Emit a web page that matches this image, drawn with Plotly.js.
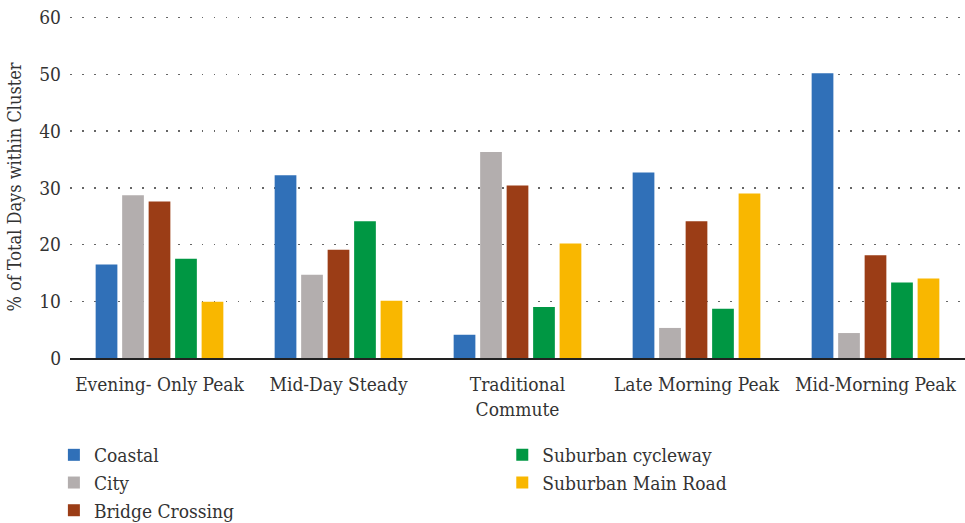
<!DOCTYPE html>
<html>
<head>
<meta charset="utf-8">
<script src="https://cdn.plot.ly/plotly-3.0.1.min.js"></script>
<style>html,body{margin:0;padding:0;background:#fff;}#chart{width:965px;height:523px;}</style>
</head>
<body>
<div id="chart"></div>
<script>
const categories = ["Evening- Only Peak", "Mid-Day Steady", "Traditional<br>Commute", "Late Morning Peak", "Mid-Morning Peak"];
const seriesNames = ["Coastal", "City", "Bridge Crossing", "Suburban cycleway", "Suburban Main Road"];
const coastal = [16.5, 32.2, 4.1, 32.7, 50.2];
const city = [28.7, 14.7, 36.3, 5.3, 4.4];
const bridgeCrossing = [27.6, 19.1, 30.4, 24.1, 18.1];
const suburbanCycleway = [17.5, 24.1, 9.0, 8.7, 13.3];
const suburbanMainRoad = [9.9, 10.1, 20.2, 29.0, 14.0];
const colors = ["#3070b8", "#b3aeae", "#9b3d16", "#009743", "#f9b700"];
const yTicks = [0, 10, 20, 30, 40, 50, 60];

const values = [coastal, city, bridgeCrossing, suburbanCycleway, suburbanMainRoad];
const legendIds = ["legend", "legend", "legend", "legend2", "legend2"];
const data = values.map((v, i) => ({
  type: "bar",
  name: seriesNames[i],
  x: categories,
  y: v,
  marker: {color: colors[i]},
  legend: legendIds[i],
  hoverinfo: "y+name"
}));

const fam = "DejaVu Serif Condensed, DejaVu Serif";
const txt = "#333";
const layout = {
  width: 965, height: 523,
  margin: {l: 70, r: 0, t: 16, b: 165, autoexpand: false},
  paper_bgcolor: "#fff", plot_bgcolor: "#fff",
  font: {family: fam, size: 19, color: txt},
  barmode: "group",
  bargap: 0.26,
  bargroupgap: 0.18,
  showlegend: true,
  xaxis: {
    type: "category",
    tickfont: {family: fam, size: 19, color: txt},
    showline: true, linecolor: "#222", linewidth: 2,
    ticks: "", showgrid: false, zeroline: false,
    ticklabelstandoff: 8
  },
  yaxis: {
    range: [0, 60.3],
    tickvals: yTicks,
    ticktext: yTicks.map(String),
    tickfont: {family: fam, size: 19, color: txt},
    showgrid: true, gridcolor: "#666", gridwidth: 1.3, griddash: "1.5px,10.5px",
    zeroline: false, showline: false, ticks: "",
    ticklabelstandoff: 8,
    title: {text: "% of Total Days within Cluster", font: {family: fam, size: 18, color: txt}, standoff: 12}
  },
  legend: {
    x: -0.018, xanchor: "left",
    y: -0.228, yanchor: "top",
    orientation: "v", traceorder: "normal",
    font: {family: fam, size: 19, color: txt},
    tracegroupgap: 0, bgcolor: "rgba(0,0,0,0)"
  },
  legend2: {
    x: 0.483, xanchor: "left",
    y: -0.228, yanchor: "top",
    orientation: "v", traceorder: "normal",
    font: {family: fam, size: 19, color: txt},
    tracegroupgap: 0, bgcolor: "rgba(0,0,0,0)"
  }
};
Plotly.newPlot("chart", data, layout, {displayModeBar: false, staticPlot: true});
</script>
</body>
</html>
